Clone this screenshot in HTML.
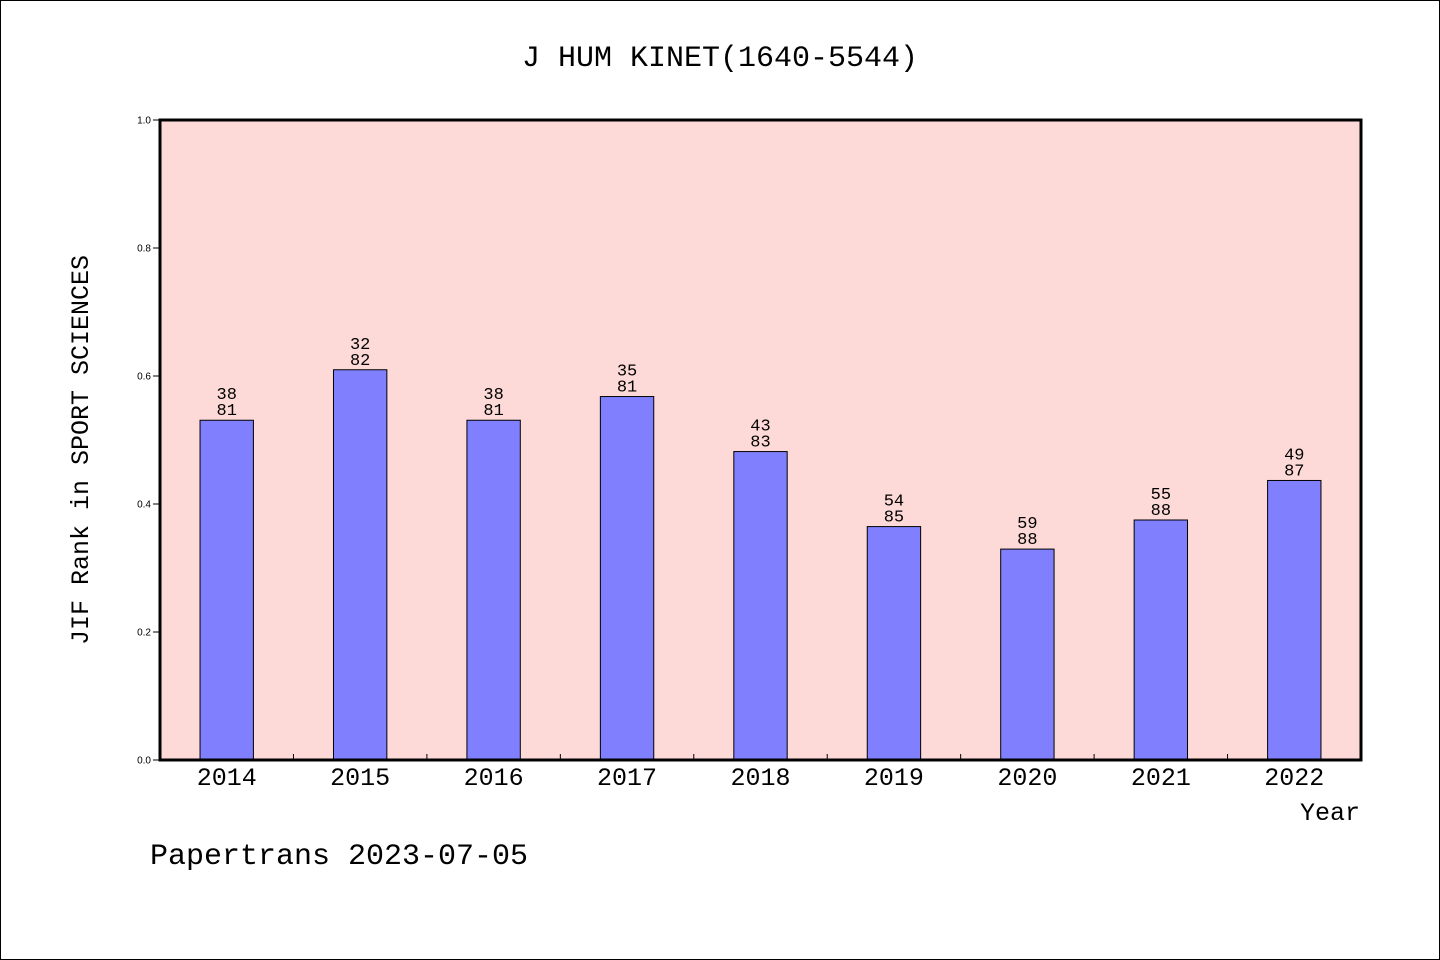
<!DOCTYPE html>
<html><head><meta charset="utf-8"><style>
body{margin:0;background:#fff;}
svg{display:block}
.m{font-family:"WenQuanYi Zen Hei","Liberation Mono",monospace;}
</style></head><body>
<svg width="1440" height="960" id="chart">
<rect x="0.5" y="0.5" width="1439" height="959" fill="#fff" stroke="#000"/>
<text class="m" x="720" y="66" font-size="30" text-anchor="middle">J HUM KINET(1640-5544)</text>
<rect x="160" y="120" width="1201" height="640" fill="#fddad7"/>
<g id="bars"></g>
<g id="ticks"></g>
<rect x="160" y="120" width="1201" height="640" fill="none" stroke="#000" stroke-width="3"/>
<text class="m" transform="translate(88,450) rotate(-90)" font-size="25" text-anchor="middle">JIF Rank in SPORT SCIENCES</text>
<text class="m" x="1360" y="820" font-size="25" text-anchor="end">Year</text>
<text class="m" x="150" y="864" font-size="30">Papertrans 2023-07-05</text>
</svg>
<script>
const years=["2014","2015","2016","2017","2018","2019","2020","2021","2022"];
const ranks=[38,32,38,35,43,54,59,55,49];
const totals=[81,82,81,81,83,85,88,88,87];
const yTicks=[0,0.2,0.4,0.6,0.8,1.0];
const NS="http://www.w3.org/2000/svg";
const X0=160,X1=1361,Y0=760,Y1=120;
const slot=(X1-X0)/years.length;
const xc=i=>X0+slot*(i+0.5);
const y=v=>Y0-(Y0-Y1)*v;
function mk(t,a,p){const e=document.createElementNS(NS,t);for(const k in a)e.setAttribute(k,a[k]);p.appendChild(e);return e;}
const bars=document.getElementById('bars'),ticks=document.getElementById('ticks');
years.forEach((yr,i)=>{
 const v=1-ranks[i]/totals[i];const w=slot*0.4;
 const r=mk('rect',{x:xc(i)-w/2,y:y(v),width:w,height:Y0-y(v),fill:'#8080ff',stroke:'#000','stroke-width':1},bars);
 
 
 const t1=mk('text',{x:xc(i),y:y(v)-21,'font-size':17,'text-anchor':'middle',class:'m'},bars);t1.textContent=ranks[i];
 
 
 const t2=mk('text',{x:xc(i),y:y(v)-5,'font-size':17,'text-anchor':'middle',class:'m'},bars);t2.textContent=totals[i];
 
 
 const xl=mk('text',{x:xc(i),y:785,'font-size':25,'text-anchor':'middle',class:'m'},ticks);xl.textContent=yr;
 
 
 if(i>0){const l=mk('line',{x1:X0+slot*i,x2:X0+slot*i,y1:Y0,y2:Y0-6,stroke:'#000'},ticks);
 
 }
});
yTicks.forEach(v=>{
 const l=mk('line',{x1:153,x2:160,y1:y(v),y2:y(v),stroke:'#000'},ticks);
 
 
 const t=mk('text',{x:151,y:y(v)+3.5,'font-size':10,'text-anchor':'end','font-family':'Liberation Sans, sans-serif'},ticks);t.textContent=v.toFixed(1);
 
 
});
</script>
</body></html>
